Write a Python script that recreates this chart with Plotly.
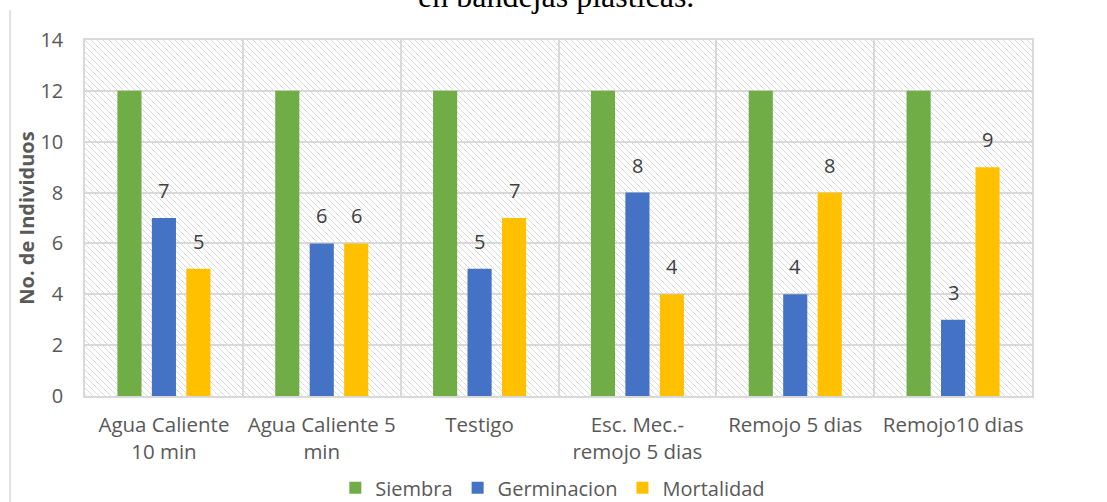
import base64
import plotly.graph_objects as go

categories = ["Agua Caliente<br>10 min", "Agua Caliente 5<br>min", "Testigo",
              "Esc. Mec.-<br>remojo 5 dias", "Remojo 5 dias", "Remojo10 dias"]
siembra = [12, 12, 12, 12, 12, 12]
germinacion = [7, 6, 5, 8, 4, 3]
mortalidad = [5, 6, 7, 4, 8, 9]
y_ticks = [0, 2, 4, 6, 8, 10, 12, 14]

FONT = "Open Sans"
TXT = "#595959"
GRID = "#D9D9D9"

W, H = 1107, 502
ML, MR, MT, MB = 85, 75, 40, 106
PW, PH = W - ML - MR, H - MT - MB

fig = go.Figure()

fig.add_trace(go.Bar(name="Siembra", x=categories, y=siembra,
                     marker=dict(color="#70AD47", line=dict(width=0))))
fig.add_trace(go.Bar(name="Germinacion", x=categories, y=germinacion,
                     marker=dict(color="#4472C4", line=dict(width=0))))
fig.add_trace(go.Bar(name="Mortalidad", x=categories, y=mortalidad,
                     marker=dict(color="#FFC000", line=dict(width=0))))

# data labels above the blue and yellow bars
slot = PW / len(categories) * (1 - 0.345) / 3
for series, shift in ((germinacion, 0), (mortalidad, slot)):
    for c, v in zip(categories, series):
        fig.add_annotation(x=c, y=v, xref="x", yref="y", text=str(v),
                           showarrow=False, yanchor="bottom", xshift=shift, yshift=12,
                           font=dict(family=FONT, size=20, color="#404040"))

fig.update_layout(
    width=W, height=H,
    margin=dict(l=ML, r=MR, t=MT, b=MB, autoexpand=False),
    paper_bgcolor="white", plot_bgcolor="white",
    font=dict(family=FONT, size=19, color=TXT),
    barmode="group", bargap=0.345, bargroupgap=0.3,
    xaxis=dict(type="category", tickson="boundaries", showgrid=True, gridcolor=GRID,
               gridwidth=1.5, showline=True, linecolor=GRID, linewidth=1.5, mirror=True,
               ticks="", ticklabelstandoff=10,
               tickfont=dict(family=FONT, size=20.5, color=TXT)),
    yaxis=dict(range=[0, 14], tickvals=y_ticks, showgrid=True, gridcolor=GRID,
               gridwidth=1.5, showline=True, linecolor=GRID, linewidth=1.5, mirror=True,
               ticks="", zeroline=False, ticklabelstandoff=16,
               tickfont=dict(family=FONT, size=20, color=TXT),
               title=dict(text="<b>No. de Individuos</b>", standoff=0,
                          font=dict(family=FONT, size=20, color=TXT))),
    legend=dict(orientation="h", xanchor="center", x=0.494, yanchor="middle", y=-0.258,
                font=dict(family=FONT, size=20, color=TXT), traceorder="normal",
                itemwidth=30),
    showlegend=True,
)

# hatched plot-area background
svg = (f'<svg xmlns="http://www.w3.org/2000/svg" width="{PW}" height="{PH}" '
       f'viewBox="0 0 {PW} {PH}" preserveAspectRatio="none">'
       '<defs><pattern id="p" width="6" height="6" patternUnits="userSpaceOnUse">'
       '<path d="M0,0 L6,6 M-1,5 L1,7 M5,-1 L7,1" stroke="#DADADA" stroke-width="1"/>'
       '</pattern></defs><rect width="100%" height="100%" fill="url(#p)"/></svg>')
fig.add_layout_image(source="data:image/svg+xml;base64," + base64.b64encode(svg.encode()).decode(),
                     xref="paper", yref="paper", x=0, y=1, sizex=1, sizey=1,
                     xanchor="left", yanchor="top", sizing="stretch", layer="below")

# cropped title from the source document
fig.add_annotation(text="en bandejas plásticas.", xref="paper", yref="paper",
                   x=0.497, y=1 + 44 / PH, yanchor="middle", showarrow=False,
                   font=dict(family="Liberation Serif", size=32, color="black"))

# left border of the chart frame
fig.add_shape(type="line", xref="paper", yref="paper",
              x0=(10 - ML) / PW, x1=(10 - ML) / PW, y0=1 + 30 / PH, y1=-MB / PH,
              line=dict(color=GRID, width=1.5))

fig.write_html("out.html", config={"displayModeBar": False},
               post_script="document.body.style.margin='0';document.body.style.overflow='hidden';")
